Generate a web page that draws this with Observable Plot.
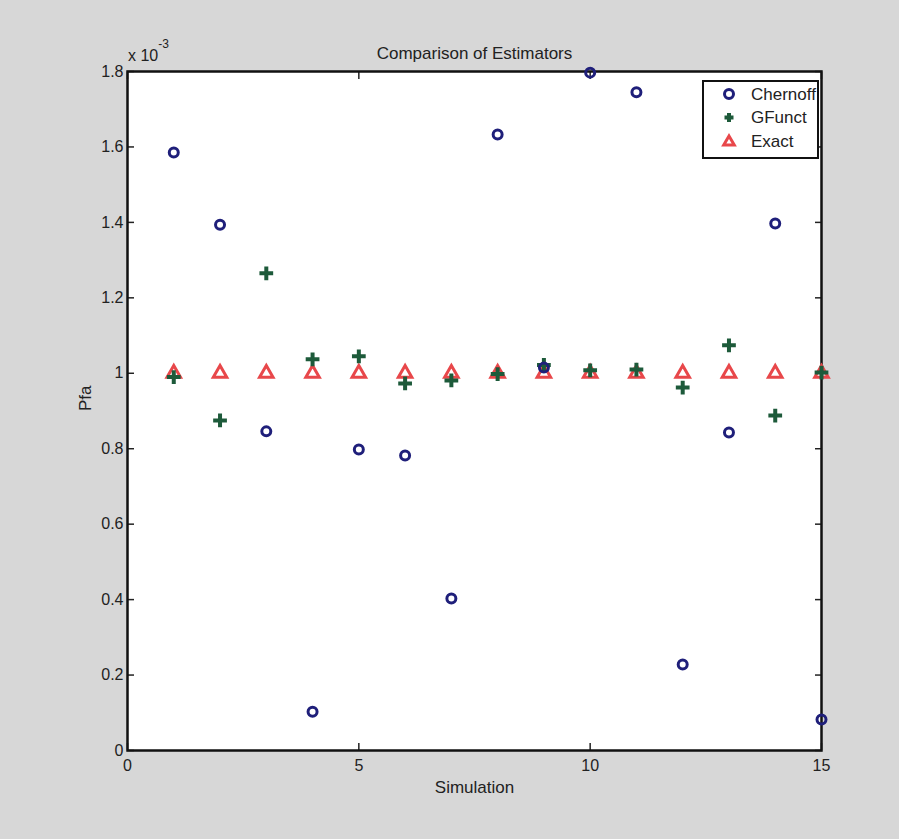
<!DOCTYPE html>
<html>
<head>
<meta charset="utf-8">
<script src="https://cdn.jsdelivr.net/npm/d3@7"></script>
<script src="https://cdn.jsdelivr.net/npm/@observablehq/plot@0.6"></script>
<style>
  html, body { margin: 0; padding: 0; background: #d7d7d7; }
  #chart svg { display: block; }
</style>
</head>
<body>
<div id="chart"></div>
<script>
// Data (values in units of 1e-3)
const simulations = [1,2,3,4,5,6,7,8,9,10,11,12,13,14,15];
const chernoff = [1.585,1.394,0.846,0.103,0.798,0.782,0.403,1.633,1.015,1.797,1.745,0.228,0.843,1.397,0.082];
const gfunct   = [0.990,0.875,1.265,1.037,1.045,0.973,0.981,0.998,1.022,1.008,1.010,0.962,1.074,0.888,1.002];
const exact    = [1,1,1,1,1,1,1,1,1,1,1,1,1,1,1];
const xTicks = [0,5,10,15];
const yTicks = [0,0.2,0.4,0.6,0.8,1,1.2,1.4,1.6,1.8];
const seriesNames = ["Chernoff","GFunct","Exact"];

const colors = {Chernoff: "#1f1f7a", GFunct: "#1d5a3a", Exact: "#e8474a"};
const font = "'Liberation Sans', Arial, Helvetica, sans-serif";

const toRows = (vals) => simulations.map((s, i) => ({sim: s, v: vals[i]}));

const chart = Plot.plot({
  width: 899,
  height: 839,
  marginLeft: 127,
  marginRight: 78,
  marginTop: 71,
  marginBottom: 89,
  style: {background: "#d7d7d7", fontFamily: font, fontSize: "15px", color: "#222"},
  x: {domain: [0, 15], ticks: xTicks},
  y: {domain: [0, 1.8], ticks: yTicks},
  marks: [
    Plot.frame({fill: "white", stroke: "none"}),
    // inward ticks on all four sides
    Plot.axisX({anchor: "bottom", ticks: xTicks, tickSize: -7, tickFormat: () => "", label: null, strokeWidth: 1.5}),
    Plot.axisX({anchor: "top", ticks: xTicks, tickSize: -7, tickFormat: () => "", label: null, strokeWidth: 1.5}),
    Plot.axisY({anchor: "left", ticks: yTicks, tickSize: -7, tickFormat: () => "", label: null, strokeWidth: 1.5}),
    Plot.axisY({anchor: "right", ticks: yTicks, tickSize: -7, tickFormat: () => "", label: null, strokeWidth: 1.5}),
    // tick labels
    Plot.axisX({anchor: "bottom", ticks: xTicks, tickSize: 0, tickPadding: 9, label: null, fontSize: 16, tickFormat: d3.format("d")}),
    Plot.axisY({anchor: "left", ticks: yTicks, tickSize: 0, tickPadding: 4, label: null, fontSize: 16, tickFormat: d => d === 0 ? "0" : d === 1 ? "1" : d3.format(".1f")(d)}),
    Plot.frame({stroke: "#111", strokeWidth: 2.5}),
    // data
    Plot.dot(toRows(exact), {x: "sim", y: "v", symbol: "triangle", r: 5, stroke: colors.Exact, strokeWidth: 3, fill: "none"}),
    Plot.dot(toRows(gfunct), {x: "sim", y: "v", symbol: "plus", r: 4.5, stroke: colors.GFunct, strokeWidth: 4}),
    Plot.dot(toRows(chernoff), {x: "sim", y: "v", symbol: "circle", r: 4.5, stroke: colors.Chernoff, strokeWidth: 3, fill: "none"}),
    // labels
    Plot.text(["Comparison of Estimators"], {frameAnchor: "top", dy: -25, fontSize: 17, fill: "#222"}),
    Plot.text(["Simulation"], {frameAnchor: "bottom", dy: 42, fontSize: 17, fill: "#222"}),
    Plot.text(["Pfa"], {frameAnchor: "left", dx: -42, rotate: -90, fontSize: 17, fill: "#222"})
  ]
});

const svg = d3.select(chart);
// exponent label
const ex = svg.append("text").attr("x", 128).attr("y", 61).attr("text-anchor", "start")
  .attr("font-family", font).attr("font-size", 16).attr("fill", "#222");
ex.append("tspan").text("x 10");
ex.append("tspan").attr("dy", -13).attr("font-size", 12).text("-3");

// legend
const lg = svg.append("g").attr("font-family", font).attr("font-size", 17).attr("text-anchor", "start");
lg.append("rect").attr("x", 703).attr("y", 81).attr("width", 115).attr("height", 77)
  .attr("fill", "white").attr("stroke", "#111").attr("stroke-width", 2);
seriesNames.forEach((name, i) => {
  const cy = 94 + i * 23.5;
  const cx = 729;
  if (name === "Chernoff") {
    lg.append("circle").attr("cx", cx).attr("cy", cy).attr("r", 4.5)
      .attr("fill", "none").attr("stroke", colors.Chernoff).attr("stroke-width", 3);
  } else if (name === "GFunct") {
    lg.append("path").attr("d", "M-4.5,0H4.5M0,-4.5V4.5")
      .attr("transform", `translate(${cx},${cy})`)
      .attr("fill", "none").attr("stroke", colors.GFunct).attr("stroke-width", 4);
  } else {
    lg.append("path").attr("d", d3.symbol(d3.symbolTriangle2, 80)())
      .attr("transform", `translate(${cx},${cy + 1})`)
      .attr("fill", "none").attr("stroke", colors.Exact).attr("stroke-width", 3);
  }
  lg.append("text").attr("x", 751).attr("y", cy).attr("dy", "0.35em")
    .attr("fill", "#222").text(name);
});

document.getElementById("chart").appendChild(chart);
</script>
</body>
</html>
